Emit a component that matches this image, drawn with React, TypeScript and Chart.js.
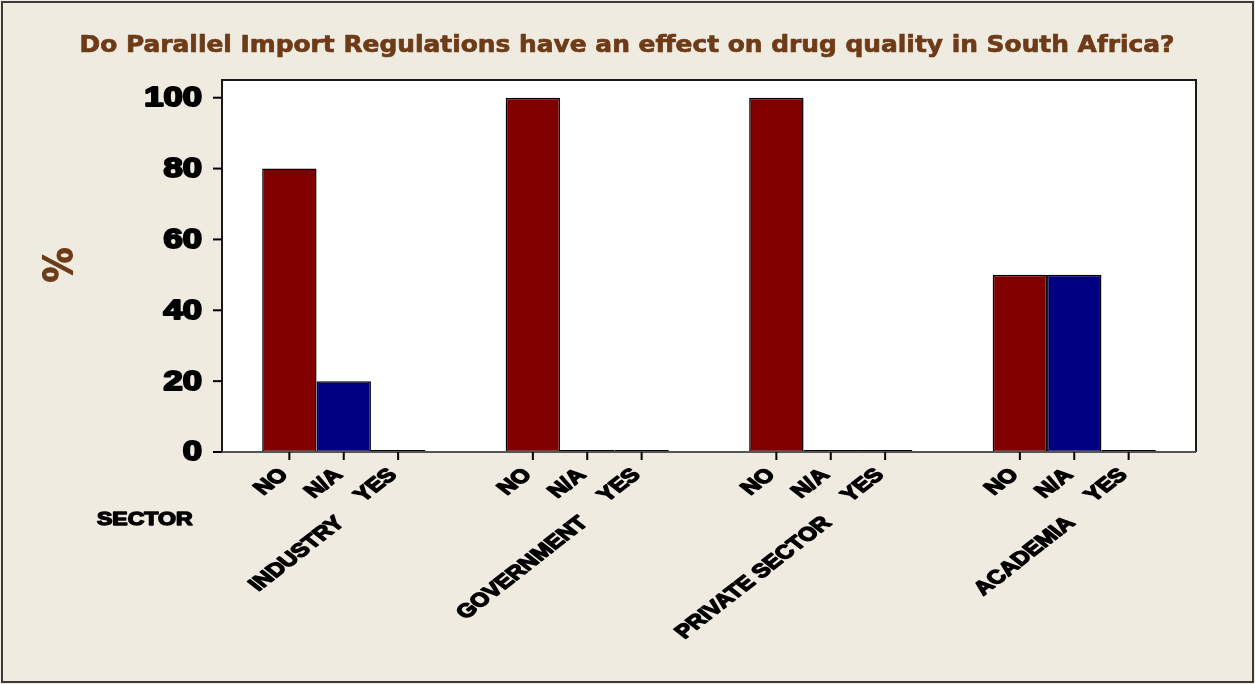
import React, { useEffect, useRef } from "react";
import { Chart, registerables } from "chart.js";

Chart.register(...registerables);

// Survey answers by sector (percent of respondents)
const sectors = ["INDUSTRY", "GOVERNMENT", "PRIVATE SECTOR", "ACADEMIA"];
const responses = ["NO", "N/A", "YES"];
const noValues = [80, 100, 100, 50];
const naValues = [20, 0, 0, 50];
const yesValues = [0, 0, 0, 0];
const yTicks = [0, 20, 40, 60, 80, 100];

const titleText = "Do Parallel Import Regulations have an effect on drug quality in South Africa?";
const yTitle = "%";
const xTitle = "SECTOR";

const BG = "#EFEBE1";
const BROWN = "#6E3B18";
const STRETCH = 1.28;
const LABEL_FONT = "bold 19px 'Liberation Sans', Arial, sans-serif";

type TextOpts = {
  font: string;
  color: string;
  align?: CanvasTextAlign;
  baseline?: CanvasTextBaseline;
  sx?: number;
  rot?: number;
  stroke?: number;
};

function drawText(ctx: CanvasRenderingContext2D, text: string, x: number, y: number, o: TextOpts) {
  ctx.save();
  ctx.translate(x, y);
  ctx.scale(o.sx ?? STRETCH, 1);
  if (o.rot) ctx.rotate(o.rot);
  ctx.font = o.font;
  ctx.fillStyle = o.color;
  ctx.textAlign = o.align ?? "left";
  ctx.textBaseline = o.baseline ?? "middle";
  ctx.fillText(text, 0, 0);
  if (o.stroke) {
    ctx.lineWidth = o.stroke;
    ctx.strokeStyle = o.color;
    ctx.lineJoin = "round";
    ctx.strokeText(text, 0, 0);
  }
  ctx.restore();
}

const decorations = {
  id: "decorations",
  beforeDraw(chart: any) {
    const { ctx, chartArea: a, width, height } = chart;
    ctx.save();
    ctx.fillStyle = BG;
    ctx.fillRect(0, 0, width, height);
    ctx.fillStyle = "#FFFFFF";
    ctx.fillRect(a.left, a.top, a.right - a.left, a.bottom - a.top);
    ctx.restore();
  },
  afterDatasetsDraw(chart: any) {
    const { ctx, chartArea: a, width, height } = chart;
    const yScale = chart.scales.y;
    ctx.save();

    // plot frame
    ctx.lineWidth = 2;
    ctx.strokeStyle = "#1a1a1a";
    ctx.beginPath();
    ctx.moveTo(a.left, a.bottom);
    ctx.lineTo(a.left, a.top);
    ctx.lineTo(a.right, a.top);
    ctx.lineTo(a.right, a.bottom);
    ctx.stroke();
    ctx.strokeStyle = "#555555";
    ctx.beginPath();
    ctx.moveTo(a.left, a.bottom);
    ctx.lineTo(a.right, a.bottom);
    ctx.stroke();

    // y ticks and labels
    ctx.strokeStyle = "#000000";
    yTicks.forEach((v) => {
      const py = yScale.getPixelForValue(v);
      ctx.beginPath();
      ctx.moveTo(a.left - 9, py);
      ctx.lineTo(a.left, py);
      ctx.stroke();
      drawText(ctx, String(v), a.left - 20, py + 1, {
        font: "bold 27px 'Liberation Sans', Arial, sans-serif",
        color: "#000000",
        align: "right",
        stroke: 2,
      });
    });

    // x ticks at each bar and response labels
    responses.forEach((r, i) => {
      const meta = chart.getDatasetMeta(i);
      meta.data.forEach((bar: any) => {
        ctx.strokeStyle = "#000000";
        ctx.lineWidth = 2;
        ctx.beginPath();
        ctx.moveTo(bar.x, a.bottom);
        ctx.lineTo(bar.x, a.bottom + 8);
        ctx.stroke();
        drawText(ctx, r, bar.x - 5, a.bottom + 20, {
          font: LABEL_FONT,
          color: "#000000",
          align: "right",
          rot: -Math.PI / 4,
          stroke: 1.4,
        });
      });
    });

    // sector labels under each group
    const xScale = chart.scales.x;
    sectors.forEach((s, j) => {
      const cx = xScale.getPixelForValue(j);
      drawText(ctx, s, cx - 3, a.bottom + 68, {
        font: LABEL_FONT,
        color: "#000000",
        align: "right",
        rot: -Math.PI / 4,
        stroke: 1.4,
      });
    });

    drawText(ctx, xTitle, 97, a.bottom + 68, {
      font: "bold 18px 'Liberation Sans', Arial, sans-serif",
      color: "#000000",
      align: "left",
      stroke: 1.4,
    });

    // axis title
    drawText(ctx, yTitle, 62, (a.top + a.bottom) / 2 - 1, {
      font: "bold 35px 'DejaVu Sans', Verdana, sans-serif",
      color: BROWN,
      align: "center",
      rot: -Math.PI / 2,
      sx: 1.1,
      stroke: 1,
    });

    // chart title, spread across the top
    const tFont = "bold 23px 'DejaVu Sans', Verdana, sans-serif";
    ctx.font = tFont;
    const tw = ctx.measureText(titleText).width;
    const sx = 1095 / tw;
    drawText(ctx, titleText, 627, 46, {
      font: tFont,
      color: BROWN,
      align: "center",
      sx,
      stroke: 0.7,
    });

    // outer frame
    ctx.lineWidth = 2;
    ctx.strokeStyle = "#3a3a3a";
    ctx.strokeRect(2, 2, width - 4, height - 4);
    ctx.restore();
  },
};

export default function App() {
  const ref = useRef<HTMLCanvasElement | null>(null);

  useEffect(() => {
    if (!ref.current) return;
    const common = {
      borderColor: "#000000",
      borderWidth: 1.5,
      borderSkipped: false as const,
      barPercentage: 1,
      categoryPercentage: 0.67,
      minBarLength: 2,
    };
    const chart = new Chart(ref.current, {
      type: "bar",
      data: {
        labels: sectors,
        datasets: [
          { label: responses[0], data: noValues, backgroundColor: "#800000", ...common },
          { label: responses[1], data: naValues, backgroundColor: "#000080", ...common },
          { label: responses[2], data: yesValues, backgroundColor: "#808080", ...common },
        ],
      },
      options: {
        animation: false,
        responsive: false,
        devicePixelRatio: 1,
        layout: { padding: { left: 222, right: 59, top: 80, bottom: 232 } },
        plugins: {
          legend: { display: false },
          title: { display: false },
          tooltip: { enabled: false },
        },
        scales: {
          x: { type: "category", display: false, offset: true },
          y: { type: "linear", display: false, min: 0, max: 105 },
        },
      },
      plugins: [decorations],
    });
    return () => chart.destroy();
  }, []);

  return (
    <div style={{ position: "absolute", left: 0, top: 0, width: 1255, height: 684 }}>
      <canvas ref={ref} width={1255} height={684} />
    </div>
  );
}
